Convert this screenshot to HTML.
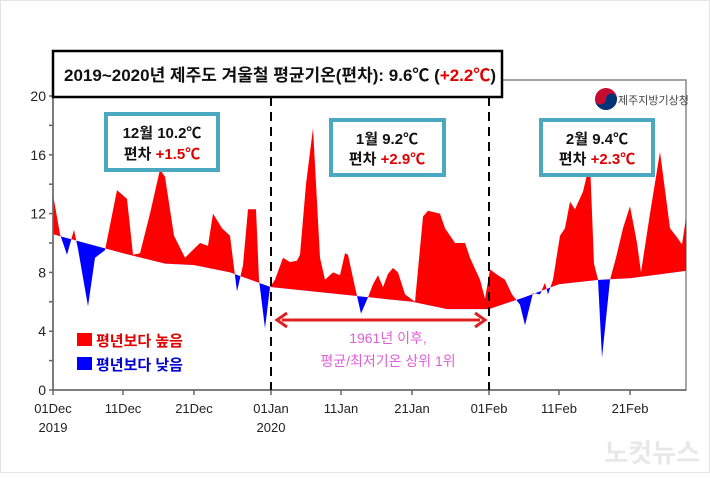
<!DOCTYPE html>
<html><head><meta charset="utf-8"><style>
body{margin:0;background:#fff;width:710px;height:473px;overflow:hidden;font-family:"Liberation Sans","Noto Sans CJK KR",sans-serif}
</style></head><body>
<svg id="s" width="710" height="473" xmlns="http://www.w3.org/2000/svg" font-family="Liberation Sans, Noto Sans CJK KR, sans-serif">
<rect x="0.5" y="0.5" width="709" height="472" fill="#fff" stroke="#e4e4e4"/>
<rect x="53" y="80" width="633" height="310" fill="none" stroke="#888" stroke-width="1.5"/>
<defs>
<clipPath id="above"><polygon id="ca"/></clipPath>
<clipPath id="below"><polygon id="cb"/></clipPath>
</defs>
<polygon id="pr" fill="#ff0000" clip-path="url(#above)"/>
<polygon id="pb" fill="#0000ff" clip-path="url(#below)"/>
<polyline id="nl" fill="none" stroke="#fff" stroke-width="0.8" opacity="0.7"/>
<g id="ax" stroke="#666" stroke-width="1.5"></g>
<g font-size="14" fill="#222" text-anchor="end" id="yl"></g>
<g font-size="13" fill="#222" text-anchor="middle">
<text x="53" y="413">01Dec</text><text x="53" y="432">2019</text>
<text x="123" y="413">11Dec</text><text x="194" y="413">21Dec</text>
<text x="271" y="413">01Jan</text><text x="271" y="432">2020</text>
<text x="341" y="413">11Jan</text><text x="412" y="413">21Jan</text>
<text x="489" y="413">01Feb</text><text x="559" y="413">11Feb</text><text x="630" y="413">21Feb</text>
</g>
<line x1="271" y1="97" x2="271" y2="390" stroke="#000" stroke-width="2" stroke-dasharray="9,6"/>
<line x1="489" y1="97" x2="489" y2="390" stroke="#000" stroke-width="2" stroke-dasharray="9,6"/>
<rect x="53" y="51" width="449" height="46" fill="#fff" stroke="#000" stroke-width="2.5"/>
<text x="64" y="81" font-size="17" font-weight="bold" fill="#111">2019~2020년 제주도 겨울철 평균기온(편차): 9.6℃ (<tspan fill="#e00000">+2.2℃</tspan>)</text>
<g fill="#fff" stroke="#4aa8c0" stroke-width="4">
<rect x="106" y="114" width="112" height="56"/><rect x="331" y="120" width="113" height="55"/><rect x="541" y="120" width="112" height="55"/>
</g>
<g font-size="15" fill="#111" text-anchor="middle" font-weight="bold">
<text x="162" y="138">12월 10.2℃</text><text x="162" y="159">편차 <tspan fill="#e00000">+1.5℃</tspan></text>
<text x="387" y="144">1월 9.2℃</text><text x="387" y="164">편차 <tspan fill="#e00000">+2.9℃</tspan></text>
<text x="597" y="144">2월 9.4℃</text><text x="597" y="164">편차 <tspan fill="#e00000">+2.3℃</tspan></text>
</g>
<circle cx="606" cy="99" r="11" fill="#c60c30"/>
<path d="M595 99 a11 11 0 0 0 22 0 a5.5 5.5 0 0 0 -11 0 a5.5 5.5 0 0 1 -11 0z" fill="#003478"/>
<text x="618" y="104" font-size="11" fill="#444">제주지방기상청</text>
<line x1="282" y1="320" x2="480" y2="320" stroke="#e02020" stroke-width="3"/>
<polyline points="287,313 277,320 287,327" fill="none" stroke="#e02020" stroke-width="3"/>
<polyline points="475,313 485,320 475,327" fill="none" stroke="#e02020" stroke-width="3"/>
<g font-size="14" fill="#e060d8" text-anchor="middle"><text x="388" y="343">1961년 이후,</text><text x="388" y="366">평균/최저기온 상위 1위</text></g>
<rect x="77" y="333" width="15" height="13" fill="#ff0000"/><text x="96" y="346" font-size="15" font-weight="bold" fill="#e00000">평년보다 높음</text>
<rect x="77" y="357" width="15" height="13" fill="#0000ff"/><text x="96" y="370" font-size="15" font-weight="bold" fill="#0000d0">평년보다 낮음</text>
<text x="700" y="462" font-size="26" font-weight="bold" fill="#e8e8e8" text-anchor="end">노컷뉴스</text>
</svg>
<script>
var Y=v=>390-14.7*v;
var N=[[53,10.6],[123,9.3],[165,8.6],[194,8.5],[230,8.0],[271,7.0],[341,6.5],[412,6.0],[447,5.5],[489,5.5],[524,6.3],[559,7.2],[600,7.5],[630,7.6],[686,8.1]];
var A=[[53,13.3],[60,10.6],[67,9.2],[74,10.9],[78,9.6],[88,5.7],[95,9],[105,9.5],[117,13.6],[127,13],[133,9.2],[140,9.3],[150,12],[160,15],[165,14.5],[174,10.5],[185,9],[200,10],[208,9.8],[213,12],[222,11],[230,10.5],[237,6.7],[243,8.5],[248,12.3],[256,12.3],[259,7.5],[265,4.2],[270,7.0],[275,7.5],[283,9],[290,8.7],[297,8.8],[300,9.2],[306,14],[313,17.8],[320,9],[325,7.5],[333,8],[340,7.8],[345,9.3],[348,9.2],[355,7],[361,5.2],[368,6.3],[373,7.2],[378,7.8],[383,7],[388,7.9],[393,8.3],[398,8],[405,6.5],[415,6],[423,11.8],[428,12.2],[440,12],[445,11],[455,10],[465,10],[470,9],[480,7.5],[485,6.2],[490,8.2],[498,7.8],[505,7.5],[512,6.5],[520,5.8],[525,4.4],[533,6.6],[540,6.5],[545,7.3],[548,6.5],[553,7.5],[560,10.5],[565,11],[570,12.8],[575,12.3],[583,13.5],[590,15.5],[594,8.6],[598,7.5],[602,2.2],[610,7.5],[616,9],[623,11],[630,12.5],[637,10],[641,8],[650,12],[660,16.2],[670,11],[678,10.3],[682,9.9],[686,11.7]];
var p=a=>a.map(q=>q[0]+","+Y(q[1]).toFixed(1));
var n=p(N),a=p(A);
var d=document;
d.getElementById("pr").setAttribute("points",a.concat(n.slice().reverse()).join(" "));
d.getElementById("pb").setAttribute("points",a.concat(n.slice().reverse()).join(" "));
d.getElementById("ca").setAttribute("points",n.join(" ")+" 686,80 53,80");
d.getElementById("cb").setAttribute("points",n.join(" ")+" 686,390 53,390");
var ax=d.getElementById("ax"),yl=d.getElementById("yl"),h="",t="";
h+='<line x1="53" y1="96" x2="53" y2="390"/><line x1="53" y1="390" x2="686" y2="390"/>';
for(var v=0;v<=20;v+=2){var y=Y(v);h+='<line x1="49" y1="'+y+'" x2="53" y2="'+y+'"/>';if(v%4==0)t+='<text x="46" y="'+(y+5)+'">'+v+'</text>';}
[53,123,194,271,341,412,489,559,630].forEach(x=>{h+='<line x1="'+x+'" y1="390" x2="'+x+'" y2="395"/>';});
ax.innerHTML=h;yl.innerHTML=t;
</script>
</body></html>
